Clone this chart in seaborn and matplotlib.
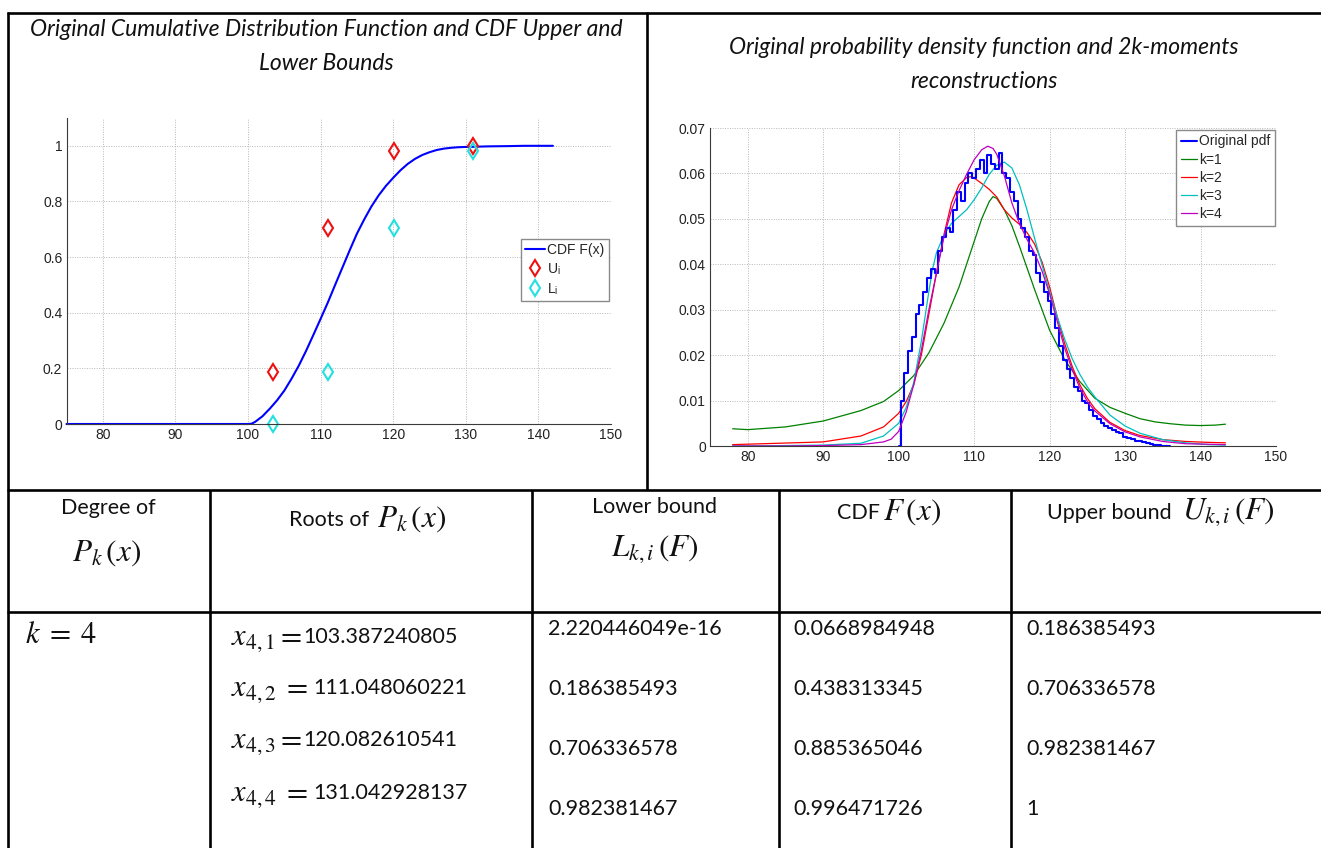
import numpy as np
import matplotlib
matplotlib.use("Agg")
import matplotlib.pyplot as plt
import seaborn as sns
from matplotlib.lines import Line2D

# ---------------- data ----------------
# table values (as printed)
roots_str = ["103.387240805", "111.048060221", "120.082610541", "131.042928137"]
lower_str = ["2.220446049e-16", "0.186385493", "0.706336578", "0.982381467"]
cdf_str = ["0.0668984948", "0.438313345", "0.885365046", "0.996471726"]
upper_str = ["0.186385493", "0.706336578", "0.982381467", "1"]
root_labels = ["$x_{4,1}$", "$x_{4,2}$", "$x_{4,3}$", "$x_{4,4}$"]

roots = [float(s) for s in roots_str]
lower = [float(s) for s in lower_str]
upper = [float(s) for s in upper_str]

# CDF curve
cdf_x = [75, 100, 100.5, 101, 102, 103, 104, 105, 106, 107, 108, 109, 110, 111,
         112, 113, 114, 115, 116, 117, 118, 119, 120, 121, 122, 123, 124, 125,
         126, 127, 128, 129, 130, 131, 133, 136, 138, 142]
cdf_y = [0, 0, 0.001, 0.008, 0.028, 0.055, 0.085, 0.12, 0.163, 0.21, 0.263, 0.32,
         0.378, 0.437, 0.5, 0.562, 0.624, 0.684, 0.735, 0.782, 0.822, 0.856, 0.885,
         0.912, 0.935, 0.953, 0.967, 0.977, 0.985, 0.99, 0.993, 0.995, 0.996,
         0.9965, 0.998, 0.999, 1.0, 1.0]

# original pdf (noisy histogram)
pdf_x = [100.0, 100.5, 101.0, 101.5, 102.0, 102.5, 103.0, 103.5, 104.0, 104.5,
         105.0, 105.5, 106.0, 106.5, 107.0, 107.5, 108.0, 108.5, 109.0, 109.5,
         110.0, 110.5, 111.0, 111.5, 112.0, 112.5, 113.0, 113.5, 114.0, 114.5,
         115.0, 115.5, 116.0, 116.5, 117.0, 117.5, 118.0, 118.5, 119.0, 119.5,
         120.0, 120.5, 121.0, 121.5, 122.0, 122.5, 123.0, 123.5, 124.0, 124.5,
         125.0, 125.5, 126.0, 126.5, 127.0, 127.5, 128.0, 128.5, 129.0, 129.5,
         130.0, 130.5, 131.0, 131.5, 132.0, 132.5, 133.0, 133.5, 134.0, 134.5,
         135.0, 135.5, 136.0]
pdf_y = [0.0, 0.010, 0.016, 0.021, 0.024, 0.029, 0.031, 0.034, 0.037, 0.039,
         0.038, 0.043, 0.046, 0.048, 0.047, 0.052, 0.056, 0.054, 0.058, 0.060,
         0.059, 0.061, 0.063, 0.060, 0.064, 0.062, 0.061, 0.0645, 0.060, 0.059,
         0.056, 0.054, 0.050, 0.048, 0.046, 0.043, 0.042, 0.038, 0.036, 0.034,
         0.032, 0.029, 0.026, 0.022, 0.019, 0.017, 0.015, 0.013, 0.012, 0.010,
         0.0095, 0.008, 0.0065, 0.006, 0.005, 0.0045, 0.004, 0.0035, 0.003, 0.0028,
         0.002, 0.0018, 0.0015, 0.0012, 0.001, 0.0008, 0.0006, 0.0004, 0.0003, 0.0002,
         0.0001, 0.0001, 0.0]

# reconstructions
k1_x = [78, 80, 85, 90, 95, 98, 100, 102, 104, 106, 108, 110, 111, 112, 112.5, 113,
        114, 115, 116, 118, 120, 122, 124, 126, 128, 130, 132, 134, 136, 138, 140, 142, 143.3]
k1_y = [0.0038, 0.0036, 0.0042, 0.0055, 0.0078, 0.0098, 0.0122, 0.0155, 0.0205, 0.027,
        0.035, 0.045, 0.050, 0.0538, 0.0549, 0.0545, 0.052, 0.0485, 0.044, 0.0345, 0.0255,
        0.019, 0.0142, 0.0105, 0.0085, 0.0072, 0.006, 0.0053, 0.0049, 0.0046, 0.0045,
        0.0046, 0.0048]

k2_x = [78, 80, 90, 95, 98, 100, 101, 102, 103, 104, 105, 106, 107, 108, 109, 109.6, 110,
        111, 112, 113, 114, 115, 116, 117, 118, 119, 120, 121, 122, 123, 124, 125, 126,
        128, 130, 132, 135, 138, 141, 143.3]
k2_y = [0.0003, 0.0004, 0.0009, 0.0022, 0.0042, 0.0072, 0.0098, 0.0135, 0.02, 0.029,
        0.038, 0.0465, 0.0535, 0.0575, 0.0591, 0.0593, 0.059, 0.0578, 0.0565, 0.0548,
        0.052, 0.0502, 0.0488, 0.047, 0.0445, 0.0405, 0.035, 0.0285, 0.0225, 0.0175,
        0.0135, 0.0105, 0.0082, 0.0052, 0.0034, 0.0023, 0.0014, 0.001, 0.0008, 0.0007]

k3_x = [78, 85, 90, 95, 98, 100, 101, 102, 103, 104, 104.5, 105, 106, 107, 108, 109, 110,
        111, 112, 113, 114, 115, 116, 117, 118, 119, 120, 121, 122, 123, 124, 125, 126,
        128, 130, 132, 135, 138, 141, 143.3]
k3_y = [0.0, 0.0001, 0.0002, 0.0006, 0.0022, 0.005, 0.0085, 0.014, 0.023, 0.034, 0.039,
        0.0425, 0.0465, 0.049, 0.0505, 0.052, 0.0542, 0.0568, 0.0598, 0.0618, 0.0625,
        0.0612, 0.0575, 0.052, 0.0458, 0.0398, 0.034, 0.0285, 0.0235, 0.0192, 0.0158,
        0.013, 0.0108, 0.0068, 0.0044, 0.0028, 0.0014, 0.0007, 0.0003, 0.0002]

k4_x = [78, 85, 90, 95, 98, 99, 100, 101, 102, 103, 104, 105, 106, 107, 108, 109, 110,
        111, 111.8, 112.5, 113, 114, 115, 116, 117, 118, 119, 120, 121, 122, 123, 124,
        125, 126, 128, 130, 132, 135, 138, 143.3]
k4_y = [0.0, 0.0, 0.0001, 0.0003, 0.0009, 0.0015, 0.0032, 0.0075, 0.0135, 0.021, 0.03,
        0.038, 0.046, 0.052, 0.0562, 0.0598, 0.063, 0.0652, 0.066, 0.0655, 0.0642,
        0.0595, 0.0535, 0.049, 0.0455, 0.0425, 0.0385, 0.0335, 0.0275, 0.0215, 0.0168,
        0.0128, 0.0098, 0.0077, 0.0049, 0.0031, 0.002, 0.001, 0.0005, 0.0003]

# ---------------- style ----------------
sns.set_style("white")
plt.rcParams['font.family'] = ['Liberation Sans', 'DejaVu Sans']
plt.rcParams['mathtext.fontset'] = 'stix'

W, H = 1321, 848
fig = plt.figure(figsize=(W / 100, H / 100), dpi=100)
fig.patch.set_facecolor('white')


def axes_px(l, t, r, b):
    return fig.add_axes([l / W, 1 - b / H, (r - l) / W, (b - t) / H])


def fx(px):
    return px / W


def fy(py):
    return 1 - py / H


ax1 = axes_px(66.5, 118, 611, 424)
ax2 = axes_px(710, 128, 1276, 446)

for ax in (ax1, ax2):
    ax.set_xlim(75, 150)
    ax.set_xticks(list(range(80, 151, 10)))
    ax.set_xticklabels([str(v) for v in range(80, 151, 10)])
    for s in ('top', 'right'):
        ax.spines[s].set_visible(False)
    for s in ('left', 'bottom'):
        ax.spines[s].set_color('#3a3a3a')
        ax.spines[s].set_linewidth(0.8)
    ax.grid(True, ls=(0, (1, 1.5)), color='#b8b8b8', lw=0.7)
    ax.tick_params(direction='in', length=4, labelsize=10, colors='#222222', pad=3,
                   width=0.8)
    ax.set_xlabel('')
    ax.set_ylabel('')

ax1.set_ylim(0, 1.1)
ax1.set_yticks([0, 0.2, 0.4, 0.6, 0.8, 1.0])
ax1.set_yticklabels(['0', '0.2', '0.4', '0.6', '0.8', '1'])

ax2.set_ylim(0, 0.07)
ax2.set_yticks([0, 0.01, 0.02, 0.03, 0.04, 0.05, 0.06, 0.07])
ax2.set_yticklabels(['0', '0.01', '0.02', '0.03', '0.04', '0.05', '0.06', '0.07'])

BLUE = '#0000ff'
GREEN = '#008000'
RED = '#ff0000'
CYAN = '#00bfbf'
MAG = '#bf00bf'

# ---- left chart ----
sns.lineplot(x=cdf_x, y=cdf_y, ax=ax1, color=BLUE, lw=1.5, estimator=None, sort=False)
sns.lineplot(x=roots, y=upper, ax=ax1, estimator=None, sort=False, color=RED,
             ls='', marker='d', ms=8.5, mfc='none', mec='#ee1111', mew=1.5)
sns.lineplot(x=roots, y=lower, ax=ax1, estimator=None, sort=False, color='cyan',
             ls='', marker='d', ms=8.5, mfc='none', mec='#22e0e0', mew=1.5)
for ln in ax1.lines:
    ln.set_clip_on(False)

h1 = [Line2D([], [], color=BLUE, lw=1.5),
      Line2D([], [], ls='', marker='d', ms=8, mfc='none', mec='#ee1111', mew=1.5),
      Line2D([], [], ls='', marker='d', ms=8, mfc='none', mec='#22e0e0', mew=1.5)]
leg1 = ax1.legend(h1, ['CDF F(x)', 'U$_\\mathregular{i}$', 'L$_\\mathregular{i}$'],
                  loc='upper right', bbox_to_anchor=(0.996, 0.605), fontsize=10,
                  frameon=True, fancybox=False, edgecolor='#8a8a8a', framealpha=1,
                  handlelength=1.4, handletextpad=0.2, labelspacing=0.3,
                  borderpad=0.3, borderaxespad=0)
leg1.get_frame().set_linewidth(1.0)

# ---- right chart ----
sns.lineplot(x=k1_x, y=k1_y, ax=ax2, color=GREEN, lw=0.9, estimator=None, sort=False)
sns.lineplot(x=k2_x, y=k2_y, ax=ax2, color=RED, lw=0.9, estimator=None, sort=False)
sns.lineplot(x=k3_x, y=k3_y, ax=ax2, color=CYAN, lw=0.9, estimator=None, sort=False)
sns.lineplot(x=pdf_x, y=pdf_y, ax=ax2, color=BLUE, lw=1.5, estimator=None, sort=False,
             drawstyle='steps-mid')
sns.lineplot(x=k4_x, y=k4_y, ax=ax2, color=MAG, lw=0.9, estimator=None, sort=False)

h2 = [Line2D([], [], color=BLUE, lw=1.5), Line2D([], [], color=GREEN, lw=0.9),
      Line2D([], [], color=RED, lw=0.9), Line2D([], [], color=CYAN, lw=0.9),
      Line2D([], [], color=MAG, lw=0.9)]
leg2 = ax2.legend(h2, ['Original pdf', 'k=1', 'k=2', 'k=3', 'k=4'],
                  loc='upper right', bbox_to_anchor=(0.998, 0.995), fontsize=10,
                  frameon=True, fancybox=False, edgecolor='#8a8a8a', framealpha=1,
                  handlelength=1.2, handletextpad=0.1, labelspacing=0.3,
                  borderpad=0.35, borderaxespad=0)
leg2.get_frame().set_linewidth(1.0)

# ---- titles ----
tkw = dict(family=['Lato', 'DejaVu Sans'], style='italic', fontsize=16.5, ha='center',
           va='center', color='#111111')
fig.text(fx(326), fy(29), 'Original Cumulative Distribution Function and CDF Upper and', **tkw)
fig.text(fx(326), fy(63), 'Lower Bounds', **tkw)
fig.text(fx(984), fy(48), 'Original probability density function and 2k-moments', **tkw)
fig.text(fx(984), fy(81), 'reconstructions', **tkw)

# ---- table grid ----
LW = 1.9


def hline(y, x0, x1):
    fig.add_artist(Line2D([fx(x0), fx(x1)], [fy(y), fy(y)], color='black', lw=LW,
                          transform=fig.transFigure, solid_capstyle='butt'))


def vline(x, y0, y1):
    fig.add_artist(Line2D([fx(x), fx(x)], [fy(y0), fy(y1)], color='black', lw=LW,
                          transform=fig.transFigure, solid_capstyle='butt'))


hline(13, 7, 1321)
hline(490, 7, 1321)
hline(612, 7, 1321)
vline(8, 12, 848)
vline(647, 12, 490)
for xc in (210, 532, 779, 1011):
    vline(xc, 490, 848)

# ---- table text ----
txt = dict(family=['Lato', 'DejaVu Sans'], fontsize=15.5, color='#111111', va='center')
mth = dict(fontsize=22.5, color='#111111', va='center')
mth_r = dict(fontsize=22, color='#111111', va='center')

fig.text(fx(108), fy(508), 'Degree of', ha='center', **txt)
fig.text(fx(107), fy(553), '$P_k\\,(x)$', ha='center', **mth)
fig.text(fx(289), fy(520), 'Roots of', ha='left', **txt)
fig.text(fx(377), fy(519), '$P_k\\,(x)$', ha='left', **mth)
fig.text(fx(654), fy(507), 'Lower bound', ha='center', **txt)
fig.text(fx(655), fy(549), '$L_{k,i}\\,(F)$', ha='center', **mth)
fig.text(fx(837), fy(513), 'CDF', ha='left', **txt)
fig.text(fx(883), fy(512), '$F\\,(x)$', ha='left', **mth)
fig.text(fx(1047), fy(513), 'Upper bound', ha='left', **txt)
fig.text(fx(1182), fy(512), '$U_{k,i}\\,(F)$', ha='left', **mth)

fig.text(fx(25), fy(635), '$k\\;=\\;4$', ha='left', **mth_r)

row_y_roots = [637, 688, 740, 793]
eq_x = [276, 282, 276, 282]
num_x = [303, 313, 303, 313]
row_y_vals = [629, 689, 749, 809]
for i in range(4):
    fig.text(fx(231), fy(row_y_roots[i] + 2), root_labels[i], ha='left', **mth_r)
    fig.text(fx(eq_x[i]), fy(row_y_roots[i] - 1), '$=$', ha='left', **mth_r)
    fig.text(fx(num_x[i]), fy(row_y_roots[i]), roots_str[i], ha='left', **txt)
    fig.text(fx(548), fy(row_y_vals[i]), lower_str[i], ha='left', **txt)
    fig.text(fx(793), fy(row_y_vals[i]), cdf_str[i], ha='left', **txt)
    fig.text(fx(1026), fy(row_y_vals[i]), upper_str[i], ha='left', **txt)

fig.savefig('out.png', dpi=100, facecolor='white')
